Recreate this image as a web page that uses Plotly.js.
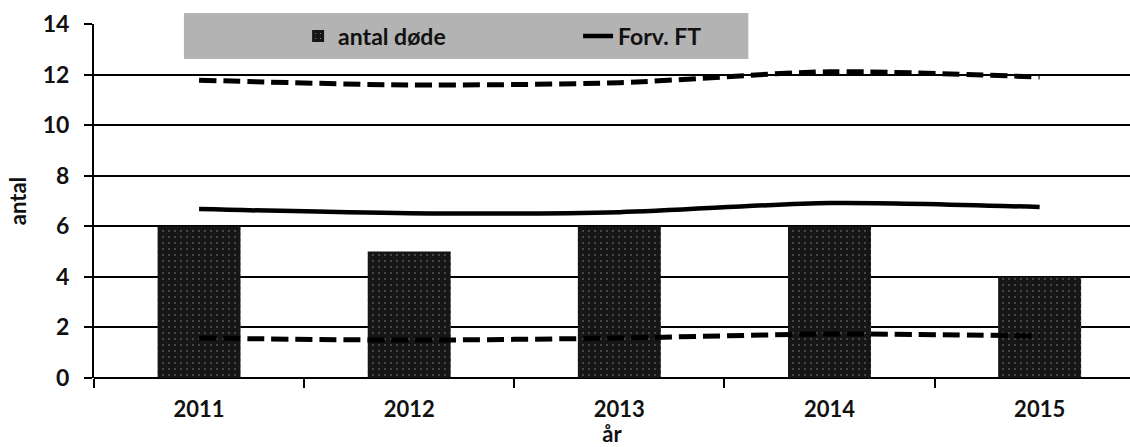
<!DOCTYPE html>
<html>
<head>
<meta charset="utf-8">
<script src="https://cdn.plot.ly/plotly-3.0.1.min.js"></script>
<style>html,body{margin:0;padding:0;background:#fff;}#chart{width:1130px;height:447px;}</style>
</head>
<body>
<div id="chart"></div>
<script>
const years = ['2011', '2012', '2013', '2014', '2015'];
const antalDode = [6, 5, 6, 6, 4];
const forvFT = [6.68, 6.52, 6.56, 6.92, 6.76];
const upperLimit = [11.78, 11.59, 11.68, 12.11, 11.9];
const lowerLimit = [1.58, 1.5, 1.58, 1.74, 1.66];
const yTicks = [0, 2, 4, 6, 8, 10, 12, 14];

const FONT = 'Lato, "Open Sans", sans-serif';

const traces = [
  {
    type: 'bar', x: years, y: antalDode, name: 'antal døde',
    marker: {color: '#161616', line: {width: 0},
      pattern: {shape: '.', bgcolor: '#161616', fgcolor: '#9a9a9a', size: 6, solidity: 0.04}},
    hoverinfo: 'skip'
  },
  {
    type: 'scatter', mode: 'lines', x: years, y: forvFT, name: 'Forv. FT',
    line: {color: '#000', width: 4.5, shape: 'spline', smoothing: 0.8}
  },
  {
    type: 'scatter', mode: 'lines', x: years, y: upperLimit, showlegend: false,
    line: {color: '#000', width: 5, dash: '17px,7px', shape: 'spline', smoothing: 0.8}
  },
  {
    type: 'scatter', mode: 'lines', x: years, y: lowerLimit, showlegend: false,
    line: {color: '#000', width: 5, dash: '17px,7px', shape: 'spline', smoothing: 0.8}
  }
];

const layout = {
  width: 1130, height: 447,
  margin: {l: 94, r: 0, t: 24, b: 69},
  paper_bgcolor: '#fff', plot_bgcolor: '#fff',
  bargap: 0.605,
  showlegend: true,
  legend: {
    orientation: 'h', x: 0.197, y: 0.966, xanchor: 'left', yanchor: 'middle',
    bgcolor: 'rgba(0,0,0,0)', entrywidth: 235, entrywidthmode: 'pixels',
    font: {family: FONT, size: 23, color: '#111', weight: 'bold'},
    itemwidth: 30, traceorder: 'normal'
  },
  shapes: [{
    type: 'rect', xref: 'paper', yref: 'paper',
    x0: 0.0868, x1: 0.6316, y0: 0.901, y1: 1.031,
    fillcolor: '#b3b3b3', line: {width: 0}, layer: 'above'
  }],
  xaxis: {
    type: 'category', range: [-0.5, 4.43],
    tickson: 'boundaries', ticks: 'outside', ticklen: 9, tickwidth: 2, tickcolor: '#000',
    showline: false, showgrid: false,
    tickfont: {family: FONT, size: 22, color: '#111', weight: 'bold'},
    ticklabelstandoff: 16,
    title: {text: 'år', font: {family: FONT, size: 22, color: '#111', weight: 'bold'}, standoff: 14}
  },
  yaxis: {
    range: [0, 14], tickvals: yTicks, ticktext: yTicks.map(String),
    ticks: 'outside', ticklen: 8, tickwidth: 2, tickcolor: '#000',
    showline: true, linecolor: '#000', linewidth: 2,
    showgrid: true, gridcolor: '#000', gridwidth: 2,
    zeroline: true, zerolinecolor: '#000', zerolinewidth: 2,
    tickfont: {family: FONT, size: 23, color: '#111', weight: 'bold'},
    ticklabelstandoff: 10,
    title: {text: 'antal', font: {family: FONT, size: 22, color: '#111', weight: 'bold'}, standoff: 10}
  }
};

Plotly.newPlot('chart', traces, layout, {displayModeBar: false, staticPlot: true});
</script>
</body>
</html>
